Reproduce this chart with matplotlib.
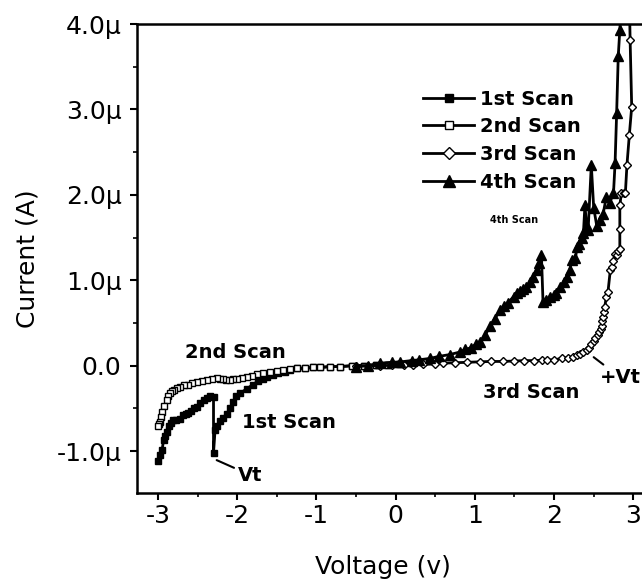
import matplotlib
matplotlib.use("Agg")
import matplotlib.pyplot as plt
from matplotlib.ticker import MultipleLocator

# data (voltage in V, current in uA)
v1 = [0.5, 0.35, 0.2, 0.05, -0.1, -0.25, -0.4, -0.55, -0.7, -0.83,
      -0.95, -1.05, -1.15, -1.25, -1.33, -1.4, -1.48, -1.55, -1.62, -1.67,
      -1.74, -1.8, -1.88, -1.96, -2.01, -2.05, -2.09, -2.13, -2.18, -2.22,
      -2.25, -2.28, -2.30, -2.30, -2.34, -2.38, -2.42, -2.47, -2.51, -2.55,
      -2.59, -2.62, -2.65, -2.68, -2.72, -2.77, -2.81, -2.84, -2.86, -2.89,
      -2.91, -2.93, -2.95, -2.98, -3.0]
i1 = [0.05, 0.04, 0.03, 0.02, 0.01, 0.01, 0.0, 0.0, -0.01, -0.01,
      -0.02, -0.02, -0.03, -0.03, -0.05, -0.07, -0.09, -0.11, -0.13, -0.15,
      -0.18, -0.22, -0.27, -0.32, -0.36, -0.42, -0.49, -0.56, -0.61, -0.65,
      -0.70, -0.75, -1.02, -0.37, -0.36, -0.38, -0.40, -0.44, -0.48, -0.50,
      -0.53, -0.55, -0.56, -0.58, -0.62, -0.63, -0.64, -0.67, -0.70, -0.77,
      -0.82, -0.87, -0.99, -1.05, -1.12]

v2 = [0.5, 0.35, 0.2, 0.05, -0.1, -0.25, -0.4, -0.55, -0.7, -0.83,
      -0.95, -1.05, -1.15, -1.25, -1.33, -1.42, -1.5, -1.59, -1.67, -1.75,
      -1.82, -1.88, -1.94, -2.0, -2.05, -2.09, -2.14, -2.18, -2.22, -2.26,
      -2.32, -2.38, -2.45, -2.51, -2.57, -2.62, -2.67, -2.72, -2.76, -2.80,
      -2.83, -2.85, -2.87, -2.89, -2.92, -2.95, -2.96, -2.97, -2.99, -3.0]
i2 = [0.05, 0.04, 0.03, 0.02, 0.01, 0.01, 0.0, 0.0, -0.01, -0.01,
      -0.02, -0.02, -0.03, -0.03, -0.04, -0.05, -0.06, -0.07, -0.09, -0.10,
      -0.12, -0.13, -0.14, -0.15, -0.16, -0.17, -0.17, -0.16, -0.15, -0.145,
      -0.16, -0.17, -0.18, -0.19, -0.20, -0.22, -0.23, -0.25, -0.26, -0.28,
      -0.30, -0.32, -0.36, -0.40, -0.47, -0.54, -0.60, -0.66, -0.68, -0.70]

v3 = [-0.5, -0.35, -0.2, -0.05, 0.1, 0.22, 0.35, 0.5, 0.6, 0.75,
      0.9, 1.07, 1.2, 1.35, 1.5, 1.62, 1.75, 1.85, 1.91, 2.0,
      2.1, 2.17, 2.24, 2.29, 2.33, 2.37, 2.41, 2.44, 2.47, 2.50,
      2.52, 2.55, 2.57, 2.59, 2.60, 2.61, 2.62, 2.63, 2.64, 2.66,
      2.68, 2.71, 2.73, 2.75, 2.77, 2.79, 2.81, 2.83, 2.83, 2.83,
      2.85, 2.88, 2.90, 2.92, 2.95, 2.98, 2.96, 2.95]
i3 = [0.0, 0.0, 0.0, 0.005, 0.008, 0.01, 0.015, 0.02, 0.03, 0.035,
      0.04, 0.046, 0.05, 0.05, 0.055, 0.06, 0.06, 0.065, 0.066, 0.07,
      0.085, 0.095, 0.105, 0.12, 0.14, 0.16, 0.18, 0.21, 0.25, 0.29,
      0.32, 0.36, 0.40, 0.43, 0.46, 0.52, 0.57, 0.63, 0.69, 0.81,
      0.86, 1.12, 1.16, 1.22, 1.31, 1.30, 1.34, 1.37, 1.60, 1.88,
      2.02, 2.02, 2.02, 2.35, 2.70, 3.03, 3.81, 4.3]

v4 = [-0.5, -0.35, -0.2, -0.05, 0.06, 0.2, 0.3, 0.43, 0.55, 0.68,
      0.81, 0.88, 0.95, 1.01, 1.07, 1.13, 1.19, 1.25, 1.32, 1.37,
      1.42, 1.49, 1.53, 1.57, 1.61, 1.65, 1.70, 1.74, 1.78, 1.81,
      1.84, 1.86, 1.90, 1.95, 2.0, 2.03, 2.08, 2.12, 2.16, 2.20,
      2.22, 2.27, 2.29, 2.31, 2.35, 2.37, 2.39, 2.41, 2.43, 2.47,
      2.50, 2.54, 2.58, 2.62, 2.66, 2.70, 2.75, 2.77, 2.79, 2.81,
      2.83, 2.85]
i4 = [-0.01, 0.0, 0.03, 0.04, 0.045, 0.06, 0.07, 0.085, 0.11, 0.13,
      0.16, 0.19, 0.21, 0.25, 0.28, 0.36, 0.46, 0.55, 0.65, 0.70,
      0.74, 0.81, 0.85, 0.87, 0.90, 0.92, 0.98, 1.04, 1.12, 1.20,
      1.30, 0.75, 0.77, 0.80, 0.83, 0.85, 0.92, 0.98, 1.04, 1.12,
      1.24, 1.26, 1.39, 1.43, 1.50, 1.55, 1.88, 1.63, 1.59, 2.35,
      1.85, 1.63, 1.70, 1.78, 1.98, 1.90, 2.02, 2.37, 2.96, 3.62,
      3.93, 4.3]

x_ticks = [-3, -2, -1, 0, 1, 2, 3]
x_labels = ["-3", "-2", "-1", "0", "1", "2", "3"]
y_ticks = [-1, 0, 1, 2, 3, 4]
y_labels = ["-1.0\u00b5", "0.0", "1.0\u00b5", "2.0\u00b5", "3.0\u00b5", "4.0\u00b5"]

plt.rcParams['font.family'] = 'DejaVu Sans'

fig = plt.figure(figsize=(6.42, 5.84), dpi=100)
ax = fig.add_axes([0.2129, 0.1558, 0.7871, 0.8031])

ax.plot(v1, i1, color='k', lw=2.0, marker='s', ms=4.5, mfc='k', mec='k', label='1st Scan')
ax.plot(v2, i2, color='k', lw=2.0, marker='s', ms=4.5, mfc='white', mec='k', label='2nd Scan')
ax.plot(v3, i3, color='k', lw=2.0, marker='D', ms=4.5, mfc='white', mec='k', label='3rd Scan')
ax.plot(v4, i4, color='k', lw=2.0, marker='^', ms=6.5, mfc='k', mec='k', label='4th Scan')

ax.set_xlim(-3.27, 3.11)
ax.set_ylim(-1.49, 4.0)

ax.set_xticks(x_ticks)
ax.set_xticklabels(x_labels)
ax.set_yticks(y_ticks)
ax.set_yticklabels(y_labels)
ax.xaxis.set_minor_locator(MultipleLocator(0.5))
ax.yaxis.set_minor_locator(MultipleLocator(0.5))
ax.tick_params(which='major', direction='out', length=5, width=1.5, labelsize=18, pad=3)
ax.tick_params(which='minor', direction='out', length=3, width=1.2)
ax.tick_params(axis='y', pad=6)

ax.spines['right'].set_visible(False)
for s in ['left', 'bottom', 'top']:
    ax.spines[s].set_linewidth(1.8)

ax.set_xlabel("Voltage (v)", fontsize=18)
ax.set_ylabel("Current (A)", fontsize=18)
ax.xaxis.set_label_coords(0.487, -0.158)
ax.xaxis.label.set_va('center')
ax.yaxis.set_label_coords(-0.217, 0.5)
ax.yaxis.label.set_va('center')

# annotations
bold = dict(fontsize=14, fontweight='bold', va='center', ha='left')
ax.text(-2.66, 0.16, "2nd Scan", **bold)
ax.text(-1.94, -0.67, "1st Scan", **bold)
ax.text(1.10, -0.31, "3rd Scan", **bold)
ax.text(1.19, 1.70, "4th Scan", fontsize=7, fontweight='bold', va='center', ha='left')
ax.annotate("Vt", xy=(-2.26, -1.105), xytext=(-1.99, -1.28),
            arrowprops=dict(arrowstyle='-', lw=1.5, color='k', shrinkA=1, shrinkB=0), **bold)
ax.annotate("+Vt", xy=(2.50, 0.10), xytext=(2.58, -0.14),
            arrowprops=dict(arrowstyle='-', lw=1.5, color='k', shrinkA=1, shrinkB=0), **bold)

leg = ax.legend(loc='upper left', bbox_to_anchor=(0.548, 0.881), frameon=False,
                borderpad=0, labelspacing=0.45, handlelength=2.6, handletextpad=0.3,
                markerscale=1.3, prop={'size': 14, 'weight': 'bold'})

fig.savefig('out.png', dpi=100)
